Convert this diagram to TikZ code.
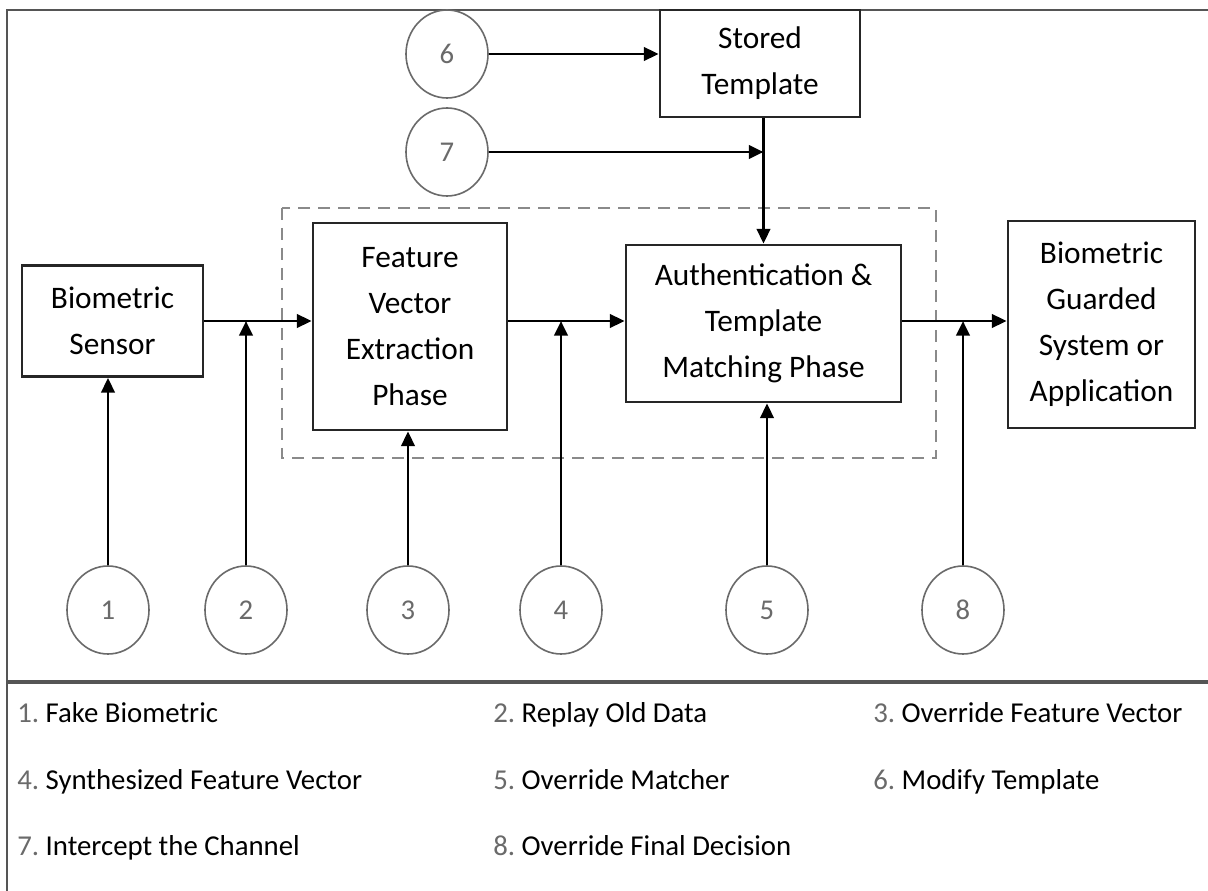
\documentclass[tikz,border=0pt]{standalone}
\usepackage{fontspec}
\setmainfont{Carlito}
\usetikzlibrary{arrows.meta,shapes.geometric}
\definecolor{framegray}{HTML}{555555}
\definecolor{numgray}{HTML}{6A6A6A}
\definecolor{dashgray}{HTML}{8A8A8A}
\tikzset{
  blk/.style={draw=black!85, line width=2.1pt, rectangle, inner sep=0pt, align=center,
              font=\fontsize{23.5}{34.5}\selectfont},
  attack/.style={draw=numgray, line width=1.2pt, ellipse, inner sep=0pt,
              minimum width=82*0.75pt, minimum height=88*0.75pt,
              text=numgray, font=\fontsize{21.5}{26}\selectfont},
  arr/.style={draw=black, line width=2.2pt, -{Triangle[length=11pt,width=10pt]}},
  leg/.style={anchor=base west, inner sep=0pt, font=\fontsize{21.6}{26}\selectfont},
}
\newcommand{\lgn}[2]{\textcolor{numgray}{#1.}~#2}
\begin{document}
\begin{tikzpicture}[x=0.75pt,y=-0.75pt]
\useasboundingbox[fill=white] (0,0) rectangle (1208,891);
% frame
\draw[framegray, line width=1.2pt] (7,891) -- (7,10) -- (1208,10);
\draw[framegray, line width=2.4pt] (7,682) -- (1208,682);
% dashed region
\draw[dashgray, line width=2pt, dash pattern=on 9pt off 6pt] (282,208) rectangle (936,458);
% blocks
\node[blk, minimum width=181*0.75pt, minimum height=111*0.75pt] (sensor) at (112.5,321) {Biometric\\Sensor};
\node[blk, minimum width=194*0.75pt, minimum height=207*0.75pt] (feat) at (410,326.5) {Feature\\Vector\\Extraction\\Phase};
\node[blk, minimum width=275*0.75pt, minimum height=157*0.75pt] (auth) at (763.5,323.5) {Authentication \&\\Template\\Matching Phase};
\node[blk, minimum width=187*0.75pt, minimum height=207*0.75pt] (guard) at (1101.5,324.5) {Biometric\\Guarded\\System or\\Application};
\node[blk, minimum width=200*0.75pt, minimum height=107*0.75pt] (stored) at (760,63.5) {Stored\\Template};
% attack circles
\node[attack] (c6) at (447,54) {6};
\node[attack] (c7) at (447,152) {7};
\node[attack] (c1) at (108,610) {1};
\node[attack] (c2) at (246,610) {2};
\node[attack] (c3) at (408,610) {3};
\node[attack] (c4) at (561,610) {4};
\node[attack] (c5) at (767,610) {5};
\node[attack] (c8) at (963,610) {8};
% main flow
\draw[arr] (sensor.east) -- (sensor.east -| feat.west);
\draw[arr] (sensor.east -| feat.east) -- (sensor.east -| auth.west);
\draw[arr] (sensor.east -| auth.east) -- (sensor.east -| guard.west);
% stored template path
\coordinate (j7) at (auth.north |- c7.east);
\draw[arr] (c6.east) -- (c6.east -| stored.west);
\draw[arr] (c7.east) -- (j7);
\draw[arr] (stored.south -| auth.north) -- (auth.north);
% attack arrows from below
\draw[arr] (c1.north) -- (c1.north |- sensor.south);
\draw[arr] (c2.north) -- (c2.north |- sensor.east);
\draw[arr] (c3.north) -- (c3.north |- feat.south);
\draw[arr] (c4.north) -- (c4.north |- sensor.east);
\draw[arr] (c5.north) -- (c5.north |- auth.south);
\draw[arr] (c8.north) -- (c8.north |- sensor.east);
% legend
\node[leg] (l1) at (17,722) {\lgn{1}{Fake Biometric}};
\node[leg] (l2) at (493,722) {\lgn{2}{Replay Old Data}};
\node[leg] (l3) at (873,722) {\lgn{3}{Override Feature Vector}};
\node[leg] (l4) at (17,789) {\lgn{4}{Synthesized Feature Vector}};
\node[leg] (l5) at (493,789) {\lgn{5}{Override Matcher}};
\node[leg] (l6) at (873,789) {\lgn{6}{Modify Template}};
\node[leg] (l7) at (17,855) {\lgn{7}{Intercept the Channel}};
\node[leg] (l8) at (493,855) {\lgn{8}{Override Final Decision}};
\end{tikzpicture}
\end{document}
